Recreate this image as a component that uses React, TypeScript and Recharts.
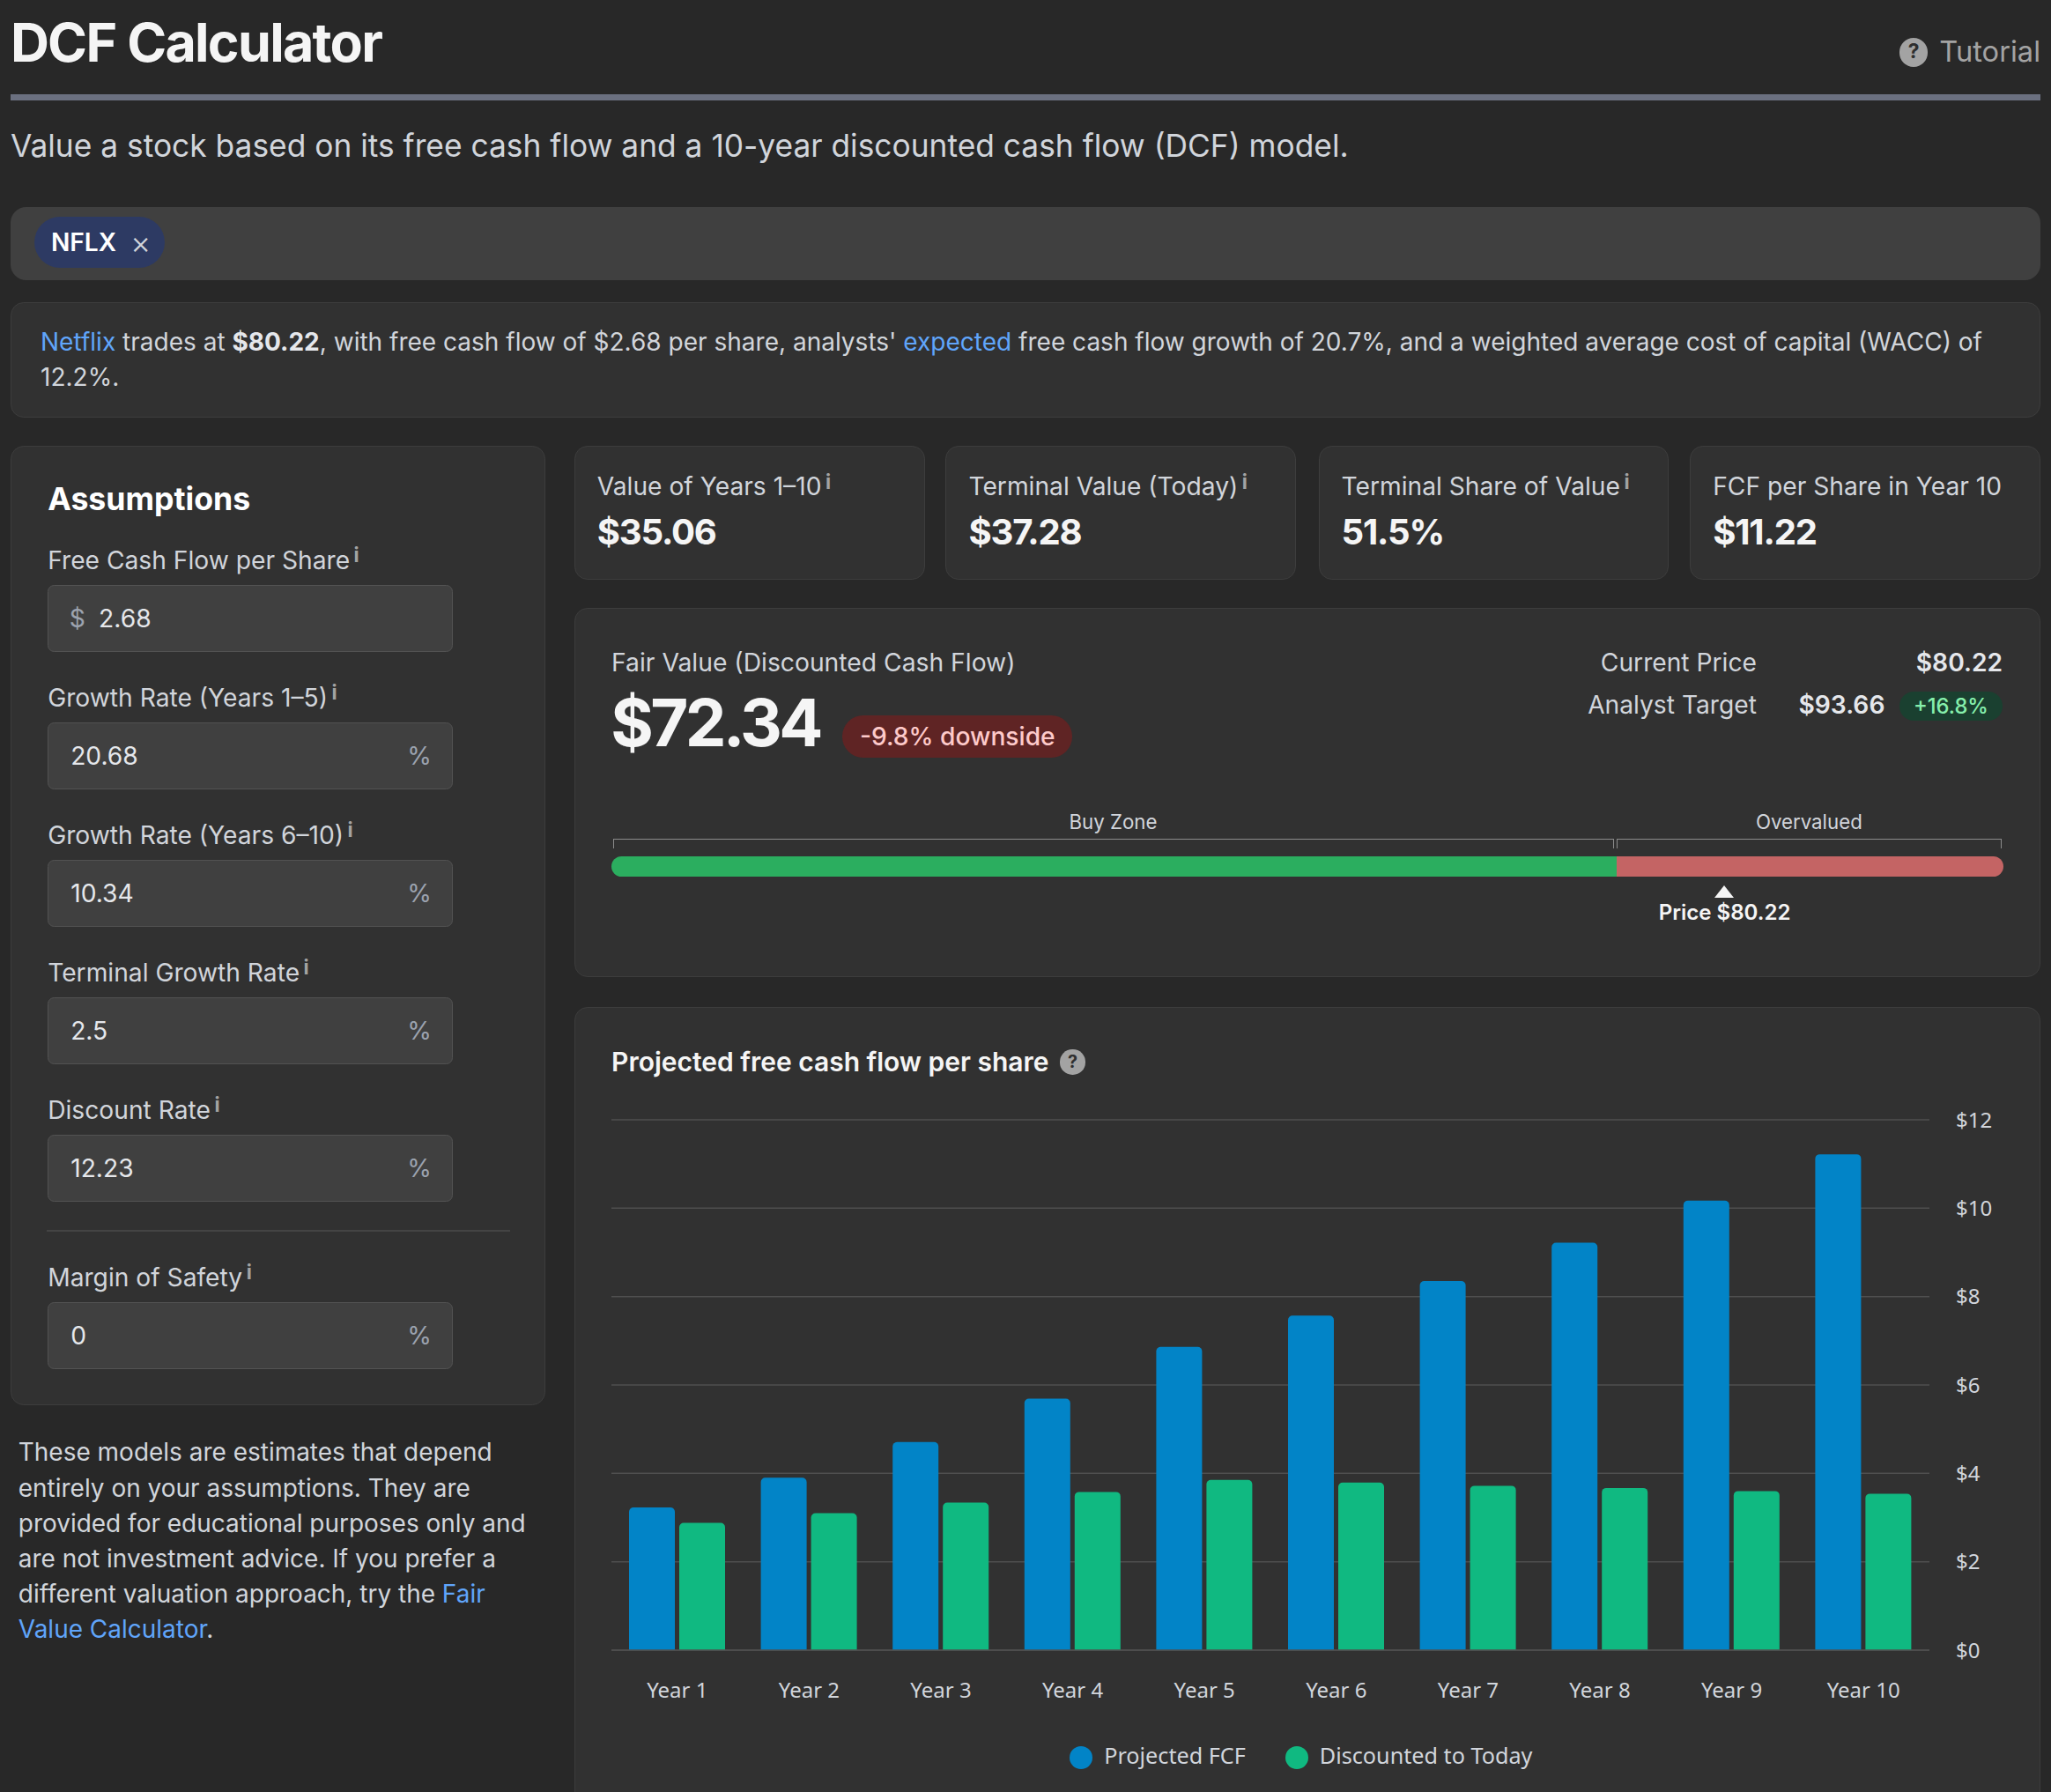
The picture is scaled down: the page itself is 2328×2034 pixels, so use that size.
import React from 'react'
import { BarChart, Bar, XAxis, YAxis, CartesianGrid, Legend } from 'recharts'

const years = ['Year 1', 'Year 2', 'Year 3', 'Year 4', 'Year 5', 'Year 6', 'Year 7', 'Year 8', 'Year 9', 'Year 10']
const projectedFcf = [3.23, 3.9, 4.71, 5.69, 6.86, 7.57, 8.35, 9.22, 10.17, 11.22]
const discounted = [2.88, 3.1, 3.34, 3.58, 3.85, 3.79, 3.72, 3.67, 3.6, 3.54]
const yTicks = [0, 2, 4, 6, 8, 10, 12]

const chartData = years.map((name, i) => ({ name, fcf: projectedFcf[i], disc: discounted[i] }))

const statCards = [
  { label: 'Value of Years 1–10', value: '$35.06', info: true },
  { label: 'Terminal Value (Today)', value: '$37.28', info: true },
  { label: 'Terminal Share of Value', value: '51.5%', info: true },
  { label: 'FCF per Share in Year 10', value: '$11.22', info: false },
]
const statLefts = [439, 723, 1008, 1292]

const fields = [
  { label: 'Free Cash Flow per Share', value: '2.68', top: 447 },
  { label: 'Growth Rate (Years 1–5)', value: '20.68', top: 552 },
  { label: 'Growth Rate (Years 6–10)', value: '10.34', top: 657 },
  { label: 'Terminal Growth Rate', value: '2.5', top: 762 },
  { label: 'Discount Rate', value: '12.23', top: 867 },
  { label: 'Margin of Safety', value: '0', top: 995 },
]

const k = 2328 / 1568
const FONT = 'Inter, sans-serif'
const CHART_FONT = '"Noto Sans", sans-serif'
const LINK = '#60a5fa'
const BODY = '#d1d5db'
const VALUE = '#e5e7eb'
const MUTED = '#9ca3af'

function Box({ x, y, w, h, bg, border, r = 0, style }: any) {
  return (
    <div
      style={{
        position: 'absolute',
        left: x * k,
        top: y * k,
        width: w * k,
        height: h * k,
        background: bg,
        border: border ? `${1.5}px solid ${border}` : undefined,
        borderRadius: r * k,
        boxSizing: 'border-box',
        ...style,
      }}
    />
  )
}

function T({ x, y, size, color = BODY, weight = 400, anchor = 'left', spacing = 0, children }: any) {
  const shift = anchor === 'right' ? '-100%' : anchor === 'center' ? '-50%' : '0'
  return (
    <div
      style={{
        position: 'absolute',
        left: x * k,
        top: y * k,
        transform: `translate(${shift}, -50%)`,
        fontSize: size * k,
        lineHeight: 1.2,
        fontWeight: weight,
        color,
        letterSpacing: spacing * k,
        whiteSpace: 'nowrap',
      }}
    >
      {children}
    </div>
  )
}

function Info() {
  return (
    <sup style={{ fontSize: '0.8em', fontWeight: 700, color: '#a3a3a3', marginLeft: '0.2em', verticalAlign: '0.33em', lineHeight: 0 }}>
      i
    </sup>
  )
}

function Help({ x, y, r }: any) {
  return (
    <>
      <Box x={x - r} y={y - r} w={r * 2} h={r * 2} bg="#a3a3a3" r={r} />
      <T x={x} y={y} size={r * 1.4} color="#2f2f2f" weight={700} anchor="center">?</T>
    </>
  )
}

function Chart() {
  return (
    <div style={{ position: 'absolute', left: 467.3 * k, top: 842 * k }}>
      <BarChart
        width={1576}
        height={784}
        data={chartData}
        margin={{ top: 21, right: 0, left: 0, bottom: 0 }}
        barCategoryGap={20}
        barGap={5}
      >
        <CartesianGrid vertical={false} stroke="#4f4f4f" strokeWidth={1.5} />
        <XAxis
          dataKey="name"
          height={102}
          interval={0}
          tickLine={false}
          tickMargin={31}
          stroke="#4f4f4f"
          strokeWidth={1.5}
          tick={{ fill: BODY, fontSize: 24, fontFamily: CHART_FONT }}
        />
        <YAxis
          orientation="right"
          width={80}
          domain={[0, 12]}
          ticks={yTicks}
          axisLine={false}
          tickLine={false}
          tickSize={0}
          tickMargin={30}
          tick={{ fill: BODY, fontSize: 24, fontFamily: CHART_FONT, textAnchor: 'start' }}
          tickFormatter={(v: number) => `$${v}`}
        />
        <Legend
          verticalAlign="bottom"
          height={59}
          iconType="circle"
          iconSize={26}
          itemSorter={(item: any) => (item.value === 'Projected FCF' ? 0 : 1)}
          wrapperStyle={{ fontFamily: CHART_FONT, fontSize: 25.2 }}
          formatter={(value: string) => (
            <span style={{ color: BODY, marginLeft: 9, marginRight: value === 'Projected FCF' ? 35 : 0 }}>{value}</span>
          )}
        />
        <Bar dataKey="fcf" name="Projected FCF" fill="#0284c7" radius={[5, 5, 0, 0]} isAnimationActive={false} />
        <Bar dataKey="disc" name="Discounted to Today" fill="#10b981" radius={[5, 5, 0, 0]} isAnimationActive={false} />
      </BarChart>
    </div>
  )
}

export default function App() {
  const panel = '#313131'
  const edge = '#3d3d3d'
  return (
    <div style={{ position: 'absolute', left: 0, top: 0, width: 2328, height: 2034, overflow: 'hidden', background: '#282828', fontFamily: FONT }}>
      <T x={8} y={33} size={41} color="#f5f5f5" weight={700} spacing={-1.15}>DCF Calculator</T>
      <Help x={1463} y={40} r={11} />
      <T x={1560} y={40} size={22} color="#a3a3a3" anchor="right">Tutorial</T>
      <Box x={8} y={72} w={1552} h={4.5} bg="#6b7080" />
      <T x={8} y={112} size={23.8}>
        Value a stock based on its free cash flow and a 10-year discounted cash flow (DCF) model.
      </T>

      <Box x={8} y={158} w={1552} h={56} bg="#404040" r={12} />
      <Box x={26} y={166} w={100} h={39} bg="#2d3a63" r={20} />
      <T x={39} y={186} size={19} color="#fff" weight={600}>NFLX</T>
      <T x={107.5} y={185.5} size={24} color={BODY} weight={300} anchor="center">×</T>

      <Box x={8} y={231} w={1552} h={88} bg={panel} border={edge} r={10} />
      <T x={31} y={262} size={18.88}>
        <span style={{ color: LINK }}>Netflix</span> trades at <b style={{ color: VALUE, fontWeight: 700 }}>$80.22</b>, with free cash flow of $2.68 per share, analysts' <span style={{ color: LINK }}>expected</span> free cash flow growth of 20.7%, and a weighted average cost of capital (WACC) of
      </T>
      <T x={31} y={289} size={18.88}>12.2%.</T>

      <Box x={8} y={341} w={409} h={733} bg={panel} border={edge} r={10} />
      <T x={36.5} y={381} size={24} color="#fff" weight={700}>Assumptions</T>
      {fields.map((f, i) => (
        <React.Fragment key={f.label}>
          <T x={36.5} y={f.top - 18} size={19}>{f.label}<Info /></T>
          <Box x={36.5} y={f.top + 0.5} w={309.5} h={51} bg="#404040" border="#525252" r={5} />
          {i === 0 ? (
            <>
              <T x={53} y={f.top + 26.5} size={19} color={MUTED}>$</T>
              <T x={75.5} y={f.top + 26.5} size={19} color={VALUE}>{f.value}</T>
            </>
          ) : (
            <>
              <T x={54} y={f.top + 26.5} size={19} color={VALUE}>{f.value}</T>
              <T x={330} y={f.top + 26.5} size={19} color={MUTED} anchor="right">%</T>
            </>
          )}
        </React.Fragment>
      ))}
      <Box x={36} y={940.5} w={354} h={1} bg="#444" />

      <T x={14} y={1111} size={18.85}>These models are estimates that depend</T>
      <T x={14} y={1138} size={18.85}>entirely on your assumptions. They are</T>
      <T x={14} y={1165} size={18.85}>provided for educational purposes only and</T>
      <T x={14} y={1192} size={18.85}>are not investment advice. If you prefer a</T>
      <T x={14} y={1219} size={18.85}>different valuation approach, try the <span style={{ color: LINK }}>Fair</span></T>
      <T x={14} y={1246} size={18.85}><span style={{ color: LINK }}>Value Calculator</span>.</T>

      {statCards.map((c, i) => (
        <React.Fragment key={c.label}>
          <Box x={statLefts[i]} y={341} w={268} h={102} bg={panel} border={edge} r={10} />
          <T x={statLefts[i] + 17.5} y={372.7} size={19}>{c.label}{c.info && <Info />}</T>
          <T x={statLefts[i] + 17.5} y={407} size={27} color="#f5f5f5" weight={700} spacing={-0.8}>{c.value}</T>
        </React.Fragment>
      ))}

      <Box x={439} y={465} w={1121} h={282} bg={panel} border={edge} r={10} />
      <T x={467.5} y={507} size={19.05}>Fair Value (Discounted Cash Flow)</T>
      <T x={467} y={553} size={50} color="#f5f5f5" weight={700} spacing={-2.5}>$72.34</T>
      <Box x={644} y={547} w={176} h={32} bg="#5f2424" r={16} />
      <T x={732} y={563.5} size={19} color="#fecaca" weight={500} anchor="center">-9.8% downside</T>
      <T x={1343} y={507} size={19} anchor="right">Current Price</T>
      <T x={1531} y={507} size={19} color={VALUE} weight={600} anchor="right">$80.22</T>
      <T x={1343} y={539.5} size={19} anchor="right">Analyst Target</T>
      <T x={1441} y={539.5} size={19} color={VALUE} weight={600} anchor="right">$93.66</T>
      <Box x={1452} y={529} w={79} h={22} bg="#1a4030" r={11} />
      <T x={1491.5} y={540} size={16} color="#86efac" weight={500} anchor="center">+16.8%</T>

      <T x={851} y={628.5} size={15} anchor="center">Buy Zone</T>
      <T x={1383} y={628.5} size={15} anchor="center">Overvalued</T>
      <Box x={469} y={641.5} w={765} h={7} style={{ borderTop: '1.5px solid #8b8b8b', borderLeft: '1.5px solid #8b8b8b', borderRight: '1.5px solid #8b8b8b' }} />
      <Box x={1236} y={641.5} w={294} h={7} style={{ borderTop: '1.5px solid #8b8b8b', borderLeft: '1.5px solid #8b8b8b', borderRight: '1.5px solid #8b8b8b' }} />
      <Box x={467.5} y={655} w={1064} h={15.5} bg="linear-gradient(to right, #2bae5f 0 72.2%, #c46464 72.2% 100%)" r={8} />
      <div
        style={{
          position: 'absolute',
          left: (1318 - 7.5) * k,
          top: 677 * k,
          width: 0,
          height: 0,
          borderLeft: `${7.5 * k}px solid transparent`,
          borderRight: `${7.5 * k}px solid transparent`,
          borderBottom: `${10 * k}px solid #f5f5f5`,
        }}
      />
      <T x={1318.5} y={697.5} size={16.2} color="#f5f5f5" weight={600} anchor="center">Price $80.22</T>

      <Box x={439} y={770} w={1121} h={640} bg={panel} border={edge} r={10} />
      <T x={467.5} y={812} size={20.2} color="#f5f5f5" weight={600}>Projected free cash flow per share</T>
      <Help x={820} y={812} r={9.5} />
      <Chart />
    </div>
  )
}
